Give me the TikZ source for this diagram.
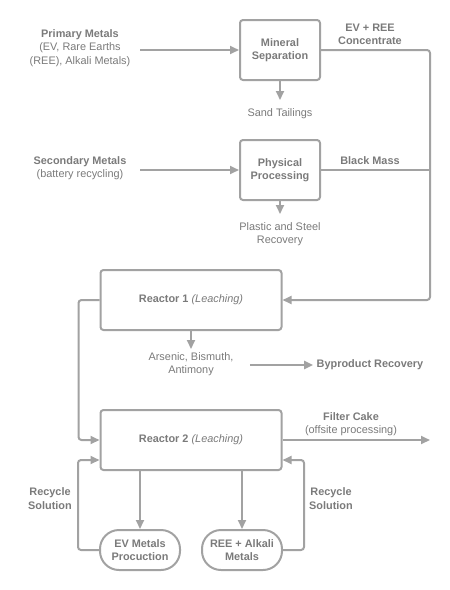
\documentclass[tikz,border=0pt]{standalone}
\usepackage{fontspec}
\setmainfont{Liberation Sans}
\usetikzlibrary{arrows.meta,positioning}
\definecolor{linegray}{HTML}{A2A2A2}
\definecolor{textgray}{HTML}{7A7A7A}
\begin{document}
\begin{tikzpicture}[x=1pt,y=-1pt,
  every node/.style={text=textgray,font=\fontsize{10.9}{13.3}\selectfont,align=center},
  lbl/.style={font=\fontsize{10.9}{13.3}\selectfont\bfseries},
  stage/.style={draw=linegray,line width=2pt,rounded corners=3pt,minimum width=80pt,minimum height=60pt,lbl},
  reactor/.style={stage,minimum width=181pt},
  product/.style={draw=linegray,line width=2pt,rounded corners=19pt,minimum width=80pt,minimum height=40pt,lbl},
  flow/.style={draw=linegray,line width=2pt,-{Triangle[length=9pt,width=8pt]}},
  pipe/.style={draw=linegray,line width=2pt}]
\useasboundingbox (0,0) rectangle (450,590);
%%% first stage: ores and batteries
\node[stage] (minsep) at (280,50) {Mineral\\Separation};
\node[stage] (physproc) at (280,170) {Physical\\Processing};
\node (primary) at (80,48) {\textbf{Primary Metals}\\(EV, Rare Earths\\(REE), Alkali Metals)};
\node (secondary) at (80,168) {\textbf{Secondary Metals}\\(battery recycling)};
\coordinate (primaryout) at (140,50);
\coordinate (secondaryout) at (140,170);
\draw[flow] (primaryout) -- (minsep.west);
\draw[flow] (secondaryout) -- (physproc.west);
\node (sand) at (280,114) {Sand Tailings};
\draw[flow] (minsep.south) -- ++(0,19);
\node (plastic) at (280,234.5) {Plastic and Steel\\Recovery};
\draw[flow] (physproc.south) -- ++(0,13);
\node[lbl] (concentrate) at (370,34.5) {EV + REE\\Concentrate};
\node[lbl] (blackmass) at (370,161) {Black Mass};
%%% reactors
\node[reactor] (reactA) at (191,300) {Reactor 1 {\mdseries\itshape (Leaching)}};
\node[reactor] (reactB) at (191,440) {Reactor 2 {\mdseries\itshape (Leaching)}};
\coordinate (bus) at (430,300);
\draw[flow,rounded corners=3pt] (minsep.east) -| (bus) -- (reactA.east);
\draw[pipe] (physproc.east) -- (physproc.east -| bus);
\draw[flow,rounded corners=3pt] (reactA.west) -- ++(-21,0) |- (reactB.west);
\draw[flow] (reactA.south) -- ++(0,18);
\node (arsenic) at (191,364.5) {Arsenic, Bismuth,\\Antimony};
\node[lbl] (byprod) at (370,365) {Byproduct Recovery};
\draw[flow] ([xshift=13pt]arsenic.east |- byprod.west) -- (byprod.west);
\node (cake) at (351,424.5) {\textbf{Filter Cake}\\(offsite processing)};
\coordinate (cakeout) at (430,440);
\draw[flow] (reactB.east) -- (cakeout);
%%% products
\node[product] (evprod) at (140,550) {EV Metals\\Procuction};
\node[product] (reeprod) at (242,550) {REE + Alkali\\Metals};
\draw[flow] (reactB.south -| evprod) -- (evprod.north);
\draw[flow] (reactB.south -| reeprod) -- (reeprod.north);
\draw[flow,rounded corners=3pt] (evprod.west) -- ++(-21,0) |- ([yshift=-20pt]reactB.west);
\draw[flow,rounded corners=3pt] (reeprod.east) -- ++(21,0) |- ([yshift=-20pt]reactB.east);
\node[lbl] (recycleA) at (50,498.5) {Recycle\\Solution};
\node[lbl] (recycleB) at (331,498.5) {Recycle\\Solution};
\end{tikzpicture}
\end{document}
